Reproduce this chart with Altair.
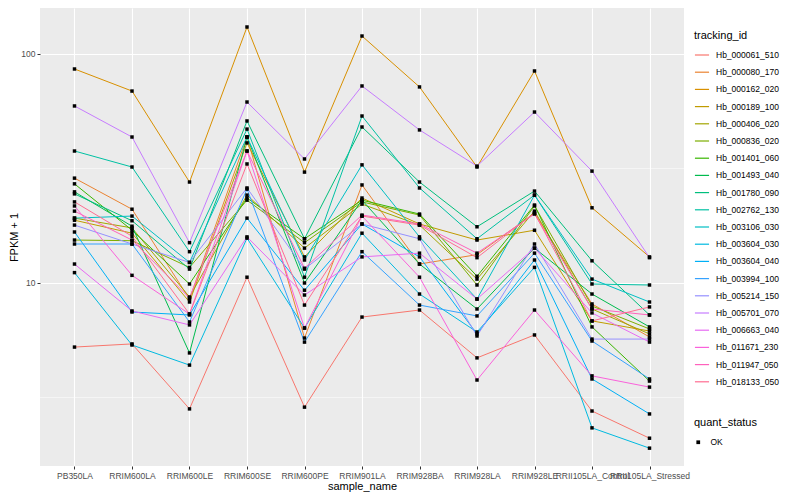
import altair as alt
import pandas as pd

samples = ["PB350LA", "RRIM600LA", "RRIM600LE", "RRIM600SE", "RRIM600PE",
           "RRIM901LA", "RRIM928BA", "RRIM928LA", "RRIM928LE",
           "RRII105LA_Control", "RRII105LA_Stressed"]

tracking_ids = ["Hb_000061_510", "Hb_000080_170", "Hb_000162_020", "Hb_000189_100",
                "Hb_000406_020", "Hb_000836_020", "Hb_001401_060", "Hb_001493_040",
                "Hb_001780_090", "Hb_002762_130", "Hb_003106_030", "Hb_003604_030",
                "Hb_003604_040", "Hb_003994_100", "Hb_005214_150", "Hb_005701_070",
                "Hb_006663_040", "Hb_011671_230", "Hb_011947_050", "Hb_018133_050"]

palette = ["#F8766D", "#EA8331", "#D89000", "#C09B00", "#A3A500", "#7CAE00",
           "#39B600", "#00BB4E", "#00BF7D", "#00C1A3", "#00BFC4", "#00BAE0",
           "#00B0F6", "#35A2FF", "#9590FF", "#C77CFF", "#E76BF3", "#FA62DB",
           "#FF62BC", "#FF6C91"]

hb_000061_510 = [5.25, 5.42, 2.82, 10.6, 2.87, 7.10, 7.62, 4.71, 5.93, 2.76, 2.10]
hb_000080_170 = [28.7, 21.0, 8.51, 43.4, 5.75, 26.8, 12.1, 13.3, 20.2, 8.10, 5.81]
hb_000162_020 = [86.0, 68.9, 27.6, 131.2, 30.5, 119.8, 71.8, 32.1, 84.3, 21.3, 13.0]
hb_000189_100 = [18.8, 16.5, 8.26, 40.9, 13.0, 23.5, 18.1, 15.4, 17.0, 6.83, 6.17]
hb_000406_020 = [19.2, 17.4, 8.69, 24.2, 14.2, 22.1, 17.9, 10.4, 20.6, 7.70, 5.99]
hb_000836_020 = [15.4, 15.3, 11.7, 23.0, 15.0, 22.6, 19.8, 9.8, 21.7, 7.93, 6.30]
hb_001401_060 = [27.1, 17.0, 9.9, 23.5, 15.6, 23.0, 20.0, 10.7, 21.9, 6.43, 3.73]
hb_001493_040 = [25.0, 17.7, 4.95, 43.4, 10.0, 23.0, 12.1, 7.70, 14.2, 8.95, 6.43]
hb_001780_090 = [24.5, 18.7, 11.5, 51.0, 15.6, 48.0, 27.6, 17.6, 25.2, 12.5, 7.25]
hb_002762_130 = [37.7, 32.1, 13.7, 47.0, 10.6, 53.6, 26.0, 15.6, 24.2, 9.9, 9.8]
hb_003106_030 = [19.2, 19.6, 12.3, 43.4, 12.6, 32.8, 15.9, 8.51, 24.2, 10.4, 8.26]
hb_003604_030 = [11.1, 5.36, 4.38, 15.7, 6.36, 16.5, 8.95, 6.11, 11.7, 2.33, 1.90]
hb_003604_040 = [16.7, 7.47, 7.25, 19.2, 9.3, 18.1, 13.0, 5.99, 12.6, 3.81, 2.68]
hb_003994_100 = [14.8, 14.8, 6.76, 25.7, 5.52, 13.7, 8.01, 7.18, 13.5, 5.58, 3.81]
hb_005214_150 = [17.9, 14.8, 12.3, 26.0, 11.5, 18.1, 15.6, 5.87, 14.8, 5.69, 5.69]
hb_005701_070 = [59.3, 43.4, 15.0, 61.7, 34.8, 72.5, 46.6, 32.4, 55.8, 30.8, 12.9]
hb_006663_040 = [12.1, 7.55, 6.56, 15.9, 8.86, 13.0, 13.5, 8.51, 14.2, 7.40, 5.52]
hb_011671_230 = [21.7, 10.8, 7.32, 37.7, 6.36, 19.6, 10.6, 3.77, 7.62, 3.93, 3.51]
hb_011947_050 = [20.6, 15.4, 8.60, 37.7, 11.6, 19.8, 18.1, 13.5, 20.0, 7.70, 7.25]
hb_018133_050 = [22.6, 16.0, 7.32, 33.1, 8.01, 19.6, 17.9, 12.9, 20.2, 6.83, 7.86]

series = [hb_000061_510, hb_000080_170, hb_000162_020, hb_000189_100, hb_000406_020,
          hb_000836_020, hb_001401_060, hb_001493_040, hb_001780_090, hb_002762_130,
          hb_003106_030, hb_003604_030, hb_003604_040, hb_003994_100, hb_005214_150,
          hb_005701_070, hb_006663_040, hb_011671_230, hb_011947_050, hb_018133_050]

major_breaks = [10, 100]
minor_breaks = [3.1623, 31.623]

rows = []
for tid, vals in zip(tracking_ids, series):
    for s, v in zip(samples, vals):
        rows.append({"tracking_id": tid, "sample_name": s, "fpkm": v, "quant_status": "OK"})
df = pd.DataFrame(rows)

FONT = "Liberation Sans"

x_enc = alt.X("sample_name:N", sort=samples, scale=alt.Scale(padding=0.6),
              title="sample_name",
              axis=alt.Axis(labelAngle=0, labelOverlap=False, grid=True, gridColor="white",
                            gridWidth=1.1, ticks=True, tickSize=3, tickColor="#333333",
                            labelColor="#4D4D4D", labelFontSize=8.5, labelPadding=2,
                            titleFontSize=11, titleFontWeight="normal", titleColor="black",
                            titlePadding=1, domain=False, labelFont=FONT, titleFont=FONT))
y_scale = alt.Scale(type="log", domain=[1.588, 158.8], nice=False)
y_enc = alt.Y("fpkm:Q", scale=y_scale, title="FPKM + 1",
              axis=alt.Axis(values=major_breaks, format="d", grid=True, gridColor="white",
                            gridWidth=1.1, ticks=True, tickSize=3, tickColor="#333333",
                            labelColor="#4D4D4D", labelFontSize=8.5, labelPadding=2,
                            titleFontSize=11, titleFontWeight="normal", titleColor="black",
                            titlePadding=1, domain=False, labelFont=FONT, titleFont=FONT))

minor = alt.Chart(pd.DataFrame({"v": minor_breaks})).mark_rule(
    color="white", strokeWidth=0.5).encode(y=alt.Y("v:Q", scale=y_scale))

lines = alt.Chart(df).mark_line(strokeWidth=1).encode(
    x=x_enc, y=y_enc,
    color=alt.Color("tracking_id:N", sort=tracking_ids,
                    scale=alt.Scale(domain=tracking_ids, range=palette),
                    legend=alt.Legend(orient="none", legendX=654, legendY=22,
                                      title="tracking_id", symbolType="stroke",
                                      symbolSize=200, symbolStrokeWidth=1.2,
                                      rowPadding=4.2, labelFontSize=8.5, titleFontSize=11,
                                      titleFontWeight="normal", labelFont=FONT, titleFont=FONT,
                                      titlePadding=6, labelOffset=6)),
    detail="tracking_id:N")

points = alt.Chart(df).mark_point(filled=True, shape="square", size=12, color="black",
                                   opacity=1).encode(
    x=alt.X("sample_name:N", sort=samples),
    y=alt.Y("fpkm:Q", scale=y_scale),
    shape=alt.Shape("quant_status:N", scale=alt.Scale(range=["square"]),
                    legend=alt.Legend(orient="none", legendX=654, legendY=409,
                                      title="quant_status", symbolSize=14,
                                      symbolFillColor="black", symbolStrokeColor="black",
                                      labelFontSize=8.5, titleFontSize=11,
                                      titleFontWeight="normal", labelFont=FONT, titleFont=FONT,
                                      titlePadding=10, labelOffset=8)))

chart = alt.layer(minor, lines, points).properties(
    width=644, height=458,
    autosize=alt.AutoSizeParams(type="none"),
    padding={"left": 32, "top": 0, "right": 108, "bottom": 26},
    background="white"
).configure_view(fill="#EBEBEB", stroke=None)

chart.save("out.html", embed_options={"renderer": "svg", "actions": False})
